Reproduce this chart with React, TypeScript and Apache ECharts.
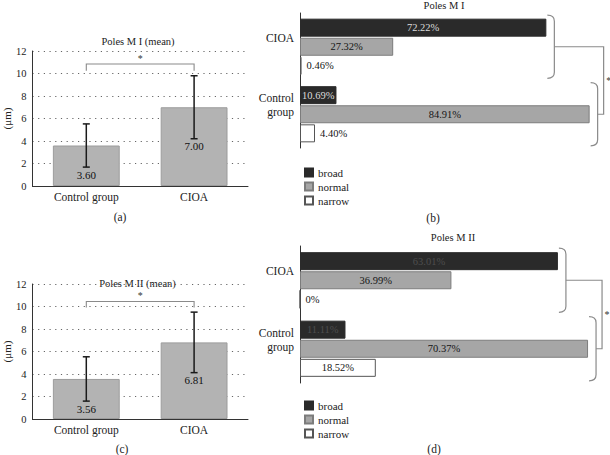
import React, { useEffect, useRef } from "react";
import * as echarts from "echarts";

const FONT = '"Liberation Serif", "DejaVu Serif", serif';

// Panels (a) and (c): mean bar charts
const barCategories = ["Control group", "CIOA"];
const poleM1Mean = [3.6, 7.0];
const poleM1Sd = [1.92, 2.8];
const poleM2Mean = [3.56, 6.81];
const poleM2Sd = [1.97, 2.69];
// significance bracket [leg bottom, bracket top] in µm
const sigM1 = [10.24, 10.84];
const sigM2 = [9.92, 10.45];
const yTicksMax = 12;
const yTicksInterval = 2;

// Panels (b) and (d): distribution percentages
const groupCategories = ["CIOA", "Control\ngroup"];
const legendNames = ["broad", "normal", "narrow"];
const m1Broad = [72.22, 10.69];
const m1Normal = [27.32, 84.91];
const m1Narrow = [0.46, 4.4];
const m2Broad = [63.01, 11.11];
const m2Normal = [36.99, 70.37];
const m2Narrow = [0, 18.52];

const pct = (p: any) => {
  const v = typeof p.value === "number" ? p.value : p.value?.value ?? p.data?.value ?? p.value;
  return v === 0 ? "0%" : Number(v).toFixed(2) + "%";
};

function errorSeries(xi: number, yi: number, mean: number[], sd: number[]) {
  return {
    type: "custom",
    xAxisIndex: xi,
    yAxisIndex: yi,
    encode: { x: 0, y: [1, 2] },
    data: mean.map((m, i) => [i, m - sd[i], m + sd[i], m]),
    z: 5,
    renderItem: (params: any, api: any) => {
      const lo = api.coord([api.value(0), api.value(1)]);
      const hi = api.coord([api.value(0), api.value(2)]);
      const w = 3.5;
      const st = { stroke: "#1a1a1a", lineWidth: 1.5 };
      return {
        type: "group",
        children: [
          { type: "line", shape: { x1: lo[0], y1: lo[1], x2: hi[0], y2: hi[1] }, style: st },
          { type: "line", shape: { x1: lo[0] - w, y1: lo[1], x2: lo[0] + w, y2: lo[1] }, style: st },
          { type: "line", shape: { x1: hi[0] - w, y1: hi[1], x2: hi[0] + w, y2: hi[1] }, style: st },
          {
            type: "text",
            x: lo[0],
            y: lo[1] + 2,
            style: {
              text: Number(api.value(3)).toFixed(2),
              fill: "#111",
              font: `11px ${FONT}`,
              align: "center",
              verticalAlign: "top",
              textAlign: "center",
              textVerticalAlign: "top",
            },
          },
        ],
      };
    },
  };
}

function bracketSeries(xi: number, yi: number, sig: number[]) {
  return {
    type: "custom",
    xAxisIndex: xi,
    yAxisIndex: yi,
    encode: { x: 0, y: 1 },
    data: [[0, sig[1], 1, sig[0]]],
    z: 5,
    renderItem: (params: any, api: any) => {
      const a = api.coord([0, api.value(1)]);
      const b = api.coord([1, api.value(1)]);
      const low = api.coord([0, api.value(3)])[1];
      return {
        type: "group",
        children: [
          {
            type: "polyline",
            shape: { points: [[a[0], low], [a[0], a[1]], [b[0], a[1]], [b[0], low]] },
            style: { stroke: "#8a8a8a", lineWidth: 1.1, fill: "none" },
          },
          {
            type: "text",
            x: (a[0] + b[0]) / 2,
            y: a[1] - 0.5,
            style: {
              text: "*",
              fill: "#333",
              font: `10px ${FONT}`,
              align: "center",
              verticalAlign: "bottom",
              textAlign: "center",
              textVerticalAlign: "bottom",
            },
          },
        ],
      };
    },
  };
}

function braceSeries(xi: number, yi: number, broad: number[], normal: number[], narrow: number[]) {
  const m0 = Math.max(broad[0], normal[0], narrow[0]);
  const m1 = Math.max(broad[1], normal[1], narrow[1]);
  return {
    type: "custom",
    xAxisIndex: xi,
    yAxisIndex: yi,
    encode: { x: 0, y: 1 },
    data: [[m0, 0, m1, 1]],
    z: 5,
    renderItem: (params: any, api: any) => {
      const c0 = api.coord([api.value(0), 0]);
      const c1 = api.coord([api.value(2), 1]);
      const band = api.size([0, 1])[1];
      const half = band * 0.468;
      const w = 7;
      const r = 6;
      const brace = (x0: number, yc: number) => {
        const t = yc - half;
        const bt = yc + half;
        return `M${x0} ${t} Q${x0 + w} ${t} ${x0 + w} ${t + r} L${x0 + w} ${bt - r} Q${x0 + w} ${bt} ${x0} ${bt}`;
      };
      const bx0 = c0[0] + 1;
      const bx1 = c1[0] + 1;
      const xr = Math.max(c0[0], c1[0]) + 14;
      const st = { stroke: "#8a8a8a", lineWidth: 1.2, fill: "none" };
      return {
        type: "group",
        children: [
          { type: "path", shape: { pathData: brace(bx0, c0[1]) }, style: st },
          { type: "path", shape: { pathData: brace(bx1, c1[1]) }, style: st },
          {
            type: "polyline",
            shape: { points: [[bx0 + w, c0[1]], [xr, c0[1]], [xr, c1[1]], [bx1 + w, c1[1]]] },
            style: st,
          },
          {
            type: "text",
            x: xr + 5,
            y: (c0[1] + c1[1]) / 2,
            style: {
              text: "*",
              fill: "#333",
              font: `10px ${FONT}`,
              align: "center",
              verticalAlign: "middle",
              textAlign: "center",
              textVerticalAlign: "middle",
            },
          },
        ],
      };
    },
  };
}

function groupBars(xi: number, yi: number, broad: number[], normal: number[], narrow: number[], broadLabel: string) {
  const common = { type: "bar", xAxisIndex: xi, yAxisIndex: yi, barWidth: 18, barGap: "6%" };
  const lab = { show: true, fontFamily: FONT, fontSize: 10.5, formatter: pct };
  return [
    {
      ...common,
      name: legendNames[0],
      data: broad,
      itemStyle: { color: "#2a2a2a", borderColor: "#2a2a2a", borderWidth: 1 },
      label: { ...lab, position: "inside", color: broadLabel },
    },
    {
      ...common,
      name: legendNames[1],
      data: normal,
      itemStyle: { color: "#a6a6a6", borderColor: "#7c7c7c", borderWidth: 1 },
      label: { ...lab, position: "inside", color: "#151515" },
    },
    {
      ...common,
      name: legendNames[2],
      data: narrow.map((v) => ({ value: v, label: { position: v < 10 ? "right" : "inside", distance: 5 } })),
      itemStyle: { color: "#ffffff", borderColor: "#555555", borderWidth: 1 },
      label: { ...lab, position: "inside", color: "#151515" },
    },
  ];
}

function meanXAxis(gi: number) {
  return {
    gridIndex: gi,
    type: "category",
    data: barCategories,
    axisLine: { lineStyle: { color: "#333", width: 1 } },
    axisTick: { show: false },
    axisLabel: { fontFamily: FONT, fontSize: 11.5, color: "#222", margin: 5 },
  };
}

function meanYAxis(gi: number) {
  return {
    gridIndex: gi,
    type: "value",
    min: 0,
    max: yTicksMax,
    interval: yTicksInterval,
    name: "(μm)",
    nameLocation: "middle",
    nameGap: 19,
    nameTextStyle: { fontFamily: FONT, fontSize: 11, color: "#222" },
    axisLine: { show: true, lineStyle: { color: "#333", width: 1 } },
    axisTick: { show: false },
    splitLine: { lineStyle: { type: [1.2, 4.5], color: "#666", width: 1 } },
    axisLabel: { fontFamily: FONT, fontSize: 10.5, color: "#222", margin: 6 },
  };
}

function groupYAxis(gi: number) {
  return {
    gridIndex: gi,
    type: "category",
    data: groupCategories,
    inverse: true,
    axisLine: { show: true, lineStyle: { color: "#333", width: 1 } },
    axisTick: { show: false },
    axisLabel: {
      margin: 6,
      formatter: (v: string) =>
        v
          .split("\n")
          .map((s) => `{a|${s}}`)
          .join("\n") + "\n{g| }",
      rich: {
        a: { fontFamily: FONT, fontSize: 11.5, color: "#222", lineHeight: 14, align: "right" },
        g: { fontSize: 4, lineHeight: 18 },
      },
    },
  };
}

function txt(text: string, x: number, y: number, size: number) {
  return {
    type: "text",
    x,
    y,
    style: {
      text,
      fill: "#222",
      font: `${size}px ${FONT}`,
      align: "center",
      verticalAlign: "middle",
      textAlign: "center",
      textVerticalAlign: "middle",
    },
  };
}

export default function App() {
  const ref = useRef<HTMLDivElement>(null);
  useEffect(() => {
    document.body.style.margin = "0";
    if (!ref.current) return;
    const chart = echarts.init(ref.current, undefined, { renderer: "svg" });
    const legendCommon = {
      data: legendNames,
      orient: "vertical",
      left: 299,
      itemWidth: 8,
      itemHeight: 8,
      itemGap: 3,
      icon: "rect",
      selectedMode: false,
      textStyle: { fontFamily: FONT, fontSize: 11, color: "#222" },
    };
    chart.setOption({
      animation: false,
      backgroundColor: "#ffffff",
      grid: [
        { left: 30, top: 51, width: 218, height: 135 },
        { left: 300, top: 13, width: 307, height: 135 },
        { left: 30, top: 284, width: 218, height: 135 },
        { left: 300, top: 246, width: 307, height: 137 },
      ],
      xAxis: [
        meanXAxis(0),
        { gridIndex: 1, type: "value", min: 0, max: 90, show: false },
        meanXAxis(2),
        { gridIndex: 3, type: "value", min: 0, max: 75, show: false },
      ],
      yAxis: [meanYAxis(0), groupYAxis(1), meanYAxis(2), groupYAxis(3)],
      legend: [
        { ...legendCommon, top: 162 },
        { ...legendCommon, top: 395 },
      ],
      graphic: [
        txt("Poles M I (mean)", 138, 41, 10.5),
        txt("Poles M I", 444, 5, 10.5),
        txt("Poles M II (mean)", 137.5, 283, 10.5),
        txt("Poles M II", 453, 237, 10.5),
        txt("(a)", 120, 217, 11.5),
        txt("(b)", 433, 218, 11.5),
        txt("(c)", 122, 449, 11.5),
        txt("(d)", 434, 449, 11.5),
      ],
      series: [
        {
          type: "bar",
          xAxisIndex: 0,
          yAxisIndex: 0,
          data: poleM1Mean,
          barWidth: "62%",
          itemStyle: { color: "#b3b3b3", borderColor: "#9c9c9c", borderWidth: 1 },
        },
        errorSeries(0, 0, poleM1Mean, poleM1Sd),
        bracketSeries(0, 0, sigM1),
        {
          type: "bar",
          xAxisIndex: 2,
          yAxisIndex: 2,
          data: poleM2Mean,
          barWidth: "62%",
          itemStyle: { color: "#b3b3b3", borderColor: "#9c9c9c", borderWidth: 1 },
        },
        errorSeries(2, 2, poleM2Mean, poleM2Sd),
        bracketSeries(2, 2, sigM2),
        ...groupBars(1, 1, m1Broad, m1Normal, m1Narrow, "#dcdcdc"),
        braceSeries(1, 1, m1Broad, m1Normal, m1Narrow),
        ...groupBars(3, 3, m2Broad, m2Normal, m2Narrow, "#4e4e4e"),
        braceSeries(3, 3, m2Broad, m2Normal, m2Narrow),
      ],
    });
    return () => chart.dispose();
  }, []);
  return <div ref={ref} style={{ width: 610, height: 455 }} />;
}
